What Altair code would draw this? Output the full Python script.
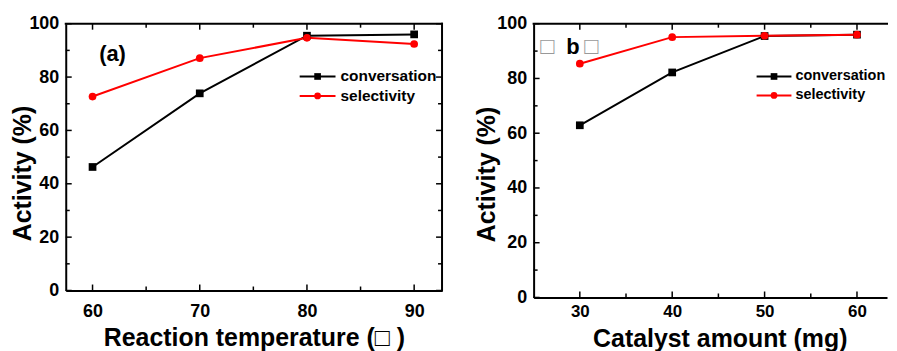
import altair as alt
import pandas as pd

FONT = "Liberation Sans"

series = ["conversation", "selectivity"]
series_colors = ["#000000", "#ff0000"]
series_shapes = ["square", "circle"]

# panel (a)
temp = [60, 70, 80, 90]
temp_conv = [46.3, 73.9, 95.5, 96.0]
temp_sel = [72.7, 87.1, 94.7, 92.4]
a_x_major = [60, 70, 80, 90]
a_x_minor = [65, 75, 85]

# panel (b)
cat = [30, 40, 50, 60]
cat_conv = [62.9, 82.2, 95.5, 96.0]
cat_sel = [85.4, 95.1, 95.6, 96.0]
b_x_major = [30, 40, 50, 60]
b_x_minor = [35, 45, 55]

y_major = [0, 20, 40, 60, 80, 100]
y_minor = [10, 30, 50, 70, 90]

one = pd.DataFrame({"k": [0]})


def panel(xs, conv, sel, x_title, x_domain, x_major, x_minor, W, H,
          xlab_pad, xlab_fs, xtitle_x, xtitle_y, ytitle_x, ytitle_y,
          right_border, leg_x0, leg_x1, leg_tx, leg_y, leg_fs, notes):
    df = pd.DataFrame({
        "x": xs + xs,
        "v": conv + sel,
        "s": [series[0]] * len(xs) + [series[1]] * len(xs),
    })
    xscale = alt.Scale(domain=x_domain, nice=False, zero=False)
    yscale = alt.Scale(domain=[0, 100], nice=False, zero=False)
    xaxis = alt.Axis(values=x_major, title=x_title, grid=False, ticks=False,
                     domain=True, domainColor="black", domainWidth=2,
                     labelFont=FONT, labelFontSize=xlab_fs, labelFontWeight="bold",
                     labelColor="black", labelPadding=xlab_pad, format="d",
                     titleFont=FONT, titleFontSize=25, titleFontWeight="bold",
                     titleColor="black", titleX=xtitle_x, titleY=xtitle_y,
                     titleBaseline="alphabetic")
    yaxis = alt.Axis(values=y_major, title="Activity (%)", grid=False, ticks=False,
                     domain=True, domainColor="black", domainWidth=2,
                     labelFont=FONT, labelFontSize=18, labelFontWeight="bold",
                     labelColor="black", labelPadding=7, format="d",
                     titleFont=FONT, titleFontSize=25, titleFontWeight="bold",
                     titleColor="black", titleX=ytitle_x, titleY=ytitle_y,
                     titleBaseline="middle", titleAngle=270)
    color = alt.Color("s:N", scale=alt.Scale(domain=series, range=series_colors), legend=None)
    shape = alt.Shape("s:N", scale=alt.Scale(domain=series, range=series_shapes), legend=None)

    X = lambda: alt.X("x:Q", scale=xscale, axis=xaxis, title=x_title)
    Y = lambda: alt.Y("v:Q", scale=yscale, axis=yaxis, title="Activity (%)")

    lines = alt.Chart(df).mark_line(strokeWidth=2).encode(x=X(), y=Y(), color=color)
    pts = alt.Chart(df).mark_point(filled=True, size=60, opacity=1).encode(
        x=X(), y=Y(), color=color, shape=shape)
    layers = [lines, pts]

    def xt(vals, L):
        d = pd.DataFrame({"x": vals})
        bot = alt.Chart(d).mark_rule(color="black", strokeWidth=1.5).encode(
            x=X(), y=alt.value(H), y2=alt.value(H - L))
        top = alt.Chart(d).mark_rule(color="black", strokeWidth=1.5).encode(
            x=X(), y=alt.value(0), y2=alt.value(L))
        return [bot, top]

    def yt(vals, L):
        d = pd.DataFrame({"v": vals})
        out = [alt.Chart(d).mark_rule(color="black", strokeWidth=1.5).encode(
            y=Y(), x=alt.value(0), x2=alt.value(L))]
        if right_border:
            out.append(alt.Chart(d).mark_rule(color="black", strokeWidth=1.5).encode(
                y=Y(), x=alt.value(W), x2=alt.value(W - L)))
        return out

    layers += xt(x_major, 6) + xt(x_minor, 4) + yt(y_major, 6) + yt(y_minor, 4)

    layers.append(alt.Chart(one).mark_rule(color="black", strokeWidth=2, strokeCap="square").encode(
        x=alt.value(0), x2=alt.value(W), y=alt.value(0)))
    if right_border:
        layers.append(alt.Chart(one).mark_rule(color="black", strokeWidth=2, strokeCap="square").encode(
            x=alt.value(W), y=alt.value(0), y2=alt.value(H)))

    for i, s in enumerate(series):
        d = pd.DataFrame({"s": [s]})
        layers.append(alt.Chart(d).mark_rule(color=series_colors[i], strokeWidth=2).encode(
            x=alt.value(leg_x0), x2=alt.value(leg_x1), y=alt.value(leg_y[i])))
        layers.append(alt.Chart(d).mark_point(filled=True, size=45, opacity=1,
                                              shape=series_shapes[i], color=series_colors[i]).encode(
            x=alt.value((leg_x0 + leg_x1) / 2), y=alt.value(leg_y[i])))
        layers.append(alt.Chart(d).mark_text(font=FONT, fontSize=leg_fs, fontWeight="bold",
                                             color="black", align="left", baseline="middle").encode(
            text="s:N", x=alt.value(leg_tx), y=alt.value(leg_y[i])))

    for (txt, nx, ny, fs, fw, col) in notes:
        d = pd.DataFrame({"t": [txt]})
        layers.append(alt.Chart(d).mark_text(font=FONT, fontSize=fs, fontWeight=fw, color=col,
                                             align="center", baseline="middle").encode(
            text="t:N", x=alt.value(nx), y=alt.value(ny)))

    return alt.layer(*layers).properties(width=W, height=H)


pa = panel(temp, temp_conv, temp_sel, "Reaction temperature (□ )", [57.5, 92.6],
           a_x_major, a_x_minor, 378, 268,
           xlab_pad=12, xlab_fs=18, xtitle_x=189, xtitle_y=55, ytitle_x=-43, ytitle_y=150,
           right_border=True, leg_x0=235, leg_x1=271, leg_tx=276, leg_y=[53, 72.5],
           leg_fs=15.5,
           notes=[("(a)", 47, 30, 22, "bold", "black")])

pb = panel(cat, cat_conv, cat_sel, "Catalyst amount (mg)", [25, 63.25],
           b_x_major, b_x_minor, 355, 275,
           xlab_pad=6, xlab_fs=17, xtitle_x=187, xtitle_y=49, ytitle_x=-47, ytitle_y=151,
           right_border=False, leg_x0=224, leg_x1=259, leg_tx=263, leg_y=[53, 72],
           leg_fs=14.5,
           notes=[("□", 14, 23, 24, "normal", "#999999"),
                  ("b", 39.5, 23, 22, "bold", "black"),
                  ("□", 58, 23, 24, "normal", "#999999")])

chart = alt.hconcat(pa, pb, spacing=30).properties(
    padding={"left": 2, "top": 5, "right": 0, "bottom": 0}
).configure_view(stroke="transparent")

chart.save("out.html", embed_options={"renderer": "svg", "actions": False})
